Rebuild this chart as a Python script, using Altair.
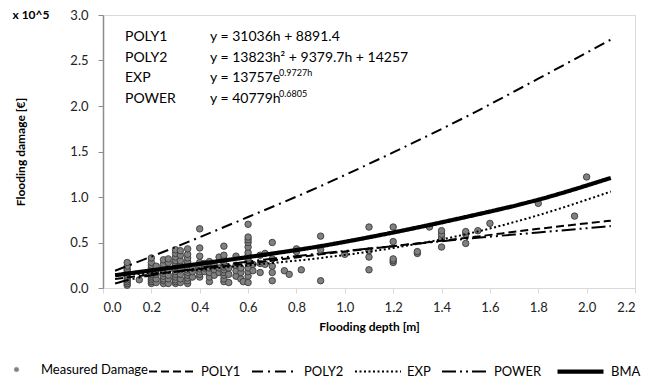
import altair as alt
import pandas as pd

# ---- measured damage (flooding depth h [m] -> damage [x 10^5 EUR]) ----
depth_levels = [0.1, 0.15, 0.2, 0.22, 0.25, 0.27, 0.3, 0.32, 0.35, 0.37, 0.4, 0.42,
                0.44, 0.46, 0.48, 0.5, 0.52, 0.55, 0.57, 0.58, 0.6, 0.62, 0.65, 0.67,
                0.7, 0.75, 0.77, 0.8, 0.82, 0.9, 1.0, 1.1, 1.2, 1.3, 1.35, 1.4, 1.5,
                1.55, 1.6, 1.8, 1.95, 2.0]
damage_levels = [
    [0.03, 0.05, 0.07, 0.09, 0.11, 0.13, 0.15, 0.17, 0.19, 0.21, 0.24, 0.28],
    [0.09],
    [0.05, 0.07, 0.09, 0.11, 0.13, 0.15, 0.17, 0.19, 0.22, 0.25, 0.28, 0.33],
    [0.06, 0.10, 0.15, 0.20, 0.24],
    [0.05, 0.08, 0.10, 0.13, 0.16, 0.19, 0.22, 0.26, 0.31],
    [0.05, 0.10, 0.14, 0.20, 0.28, 0.32],
    [0.05, 0.07, 0.09, 0.12, 0.15, 0.18, 0.21, 0.24, 0.27, 0.30, 0.34, 0.38, 0.42],
    [0.06, 0.10, 0.15, 0.20, 0.25, 0.30, 0.36, 0.41],
    [0.05, 0.08, 0.11, 0.14, 0.17, 0.20, 0.23, 0.26, 0.29, 0.33, 0.37, 0.43],
    [0.12, 0.18, 0.22],
    [0.12, 0.15, 0.18, 0.21, 0.24, 0.28, 0.35, 0.44, 0.65],
    [0.18, 0.22, 0.27],
    [0.07, 0.12, 0.17, 0.22, 0.29],
    [0.14, 0.20, 0.25],
    [0.17, 0.22, 0.34],
    [0.07, 0.10, 0.14, 0.17, 0.20, 0.23, 0.26, 0.29, 0.32, 0.36, 0.46],
    [0.06, 0.15, 0.22],
    [0.13, 0.19, 0.25, 0.35],
    [0.10, 0.17, 0.22],
    [0.07],
    [0.06, 0.13, 0.18, 0.22, 0.27, 0.30, 0.33, 0.36, 0.39, 0.45, 0.50, 0.53, 0.56, 0.70],
    [0.19, 0.26],
    [0.17, 0.27, 0.36],
    [0.26, 0.38],
    [0.08, 0.17, 0.24, 0.32, 0.50],
    [0.19],
    [0.15],
    [0.40, 0.43],
    [0.20],
    [0.08, 0.42, 0.57],
    [0.37],
    [0.20, 0.34, 0.41, 0.67],
    [0.28, 0.30, 0.32, 0.51, 0.67],
    [0.38, 0.40],
    [0.67],
    [0.45, 0.55, 0.59, 0.63],
    [0.49, 0.59, 0.62],
    [0.63],
    [0.71],
    [0.93],
    [0.79],
    [1.22],
]

# ---- fitted curves ----
curve_h = [0.05, 0.3, 0.6, 0.9, 1.2, 1.5, 1.8, 2.1]
poly1_v = [0.10, 0.18, 0.27, 0.37, 0.46, 0.55, 0.65, 0.74]
poly2_v = [0.19, 0.45, 0.78, 1.12, 1.49, 1.88, 2.30, 2.73]
exp_v = [0.14, 0.18, 0.25, 0.33, 0.44, 0.59, 0.80, 1.06]
bma_v = [0.14, 0.23, 0.34, 0.46, 0.61, 0.78, 0.97, 1.21]
power_h = [0.05, 0.1, 0.2, 0.3, 0.6, 0.9, 1.2, 1.5, 1.8, 2.1]
power_v = [0.05, 0.085, 0.14, 0.18, 0.29, 0.38, 0.46, 0.54, 0.61, 0.68]

models = ["POLY1", "POLY2", "EXP", "POWER", "BMA"]
model_dash = [[8, 4], [11, 5, 2, 5], [2, 2.5], [14, 4, 2, 4, 2, 4], [1, 0]]
model_width = [2, 2, 2, 2, 4.2]

eq_names = ["POLY1", "POLY2", "EXP", "POWER"]
eq_texts = ["y = 31036h + 8891.4", "y = 13823h\u00b2 + 9379.7h + 14257",
            "y = 13757e", "y = 40779h"]
eq_sups = ["", "", "0.9727h", "0.6805"]

x_ticks = [0.0, 0.2, 0.4, 0.6, 0.8, 1.0, 1.2, 1.4, 1.6, 1.8, 2.0, 2.2]
y_ticks = [0.0, 0.5, 1.0, 1.5, 2.0, 2.5, 3.0]

FONT = "Lato"

meas = pd.DataFrame({
    "h": [h for h, vs in zip(depth_levels, damage_levels) for _ in vs],
    "v": [v for vs in damage_levels for v in vs],
})
meas["lab"] = "Measured Damage"

rows = []
for name, hs, vs in [("POLY1", curve_h, poly1_v), ("POLY2", curve_h, poly2_v),
                     ("EXP", curve_h, exp_v), ("POWER", power_h, power_v),
                     ("BMA", curve_h, bma_v)]:
    for h, v in zip(hs, vs):
        rows.append({"model": name, "h": h, "v": v})
curves = pd.DataFrame(rows)

xs = alt.Scale(domain=[0, 2.2], nice=False, zero=False)
ys = alt.Scale(domain=[0, 3.0], nice=False, zero=False)

x_axis = alt.Axis(title="Flooding depth [m]", values=x_ticks, format=".1f",
                  grid=False, domainColor="#d9d9d9", tickColor="#d9d9d9",
                  tickSize=5, labelPadding=8, labelFontSize=13, labelFont=FONT,
                  labelColor="#222222", titleFont=FONT, titleFontSize=12,
                  titleFontWeight="bold", titleColor="#000000", titlePadding=7)
y_axis = alt.Axis(title="Flooding damage  [\u20ac]", values=y_ticks, format=".1f",
                  grid=False, domainColor="#8c8c8c", domainWidth=1.5,
                  tickColor="#8c8c8c", tickSize=5, labelPadding=10,
                  labelFontSize=13, labelFont=FONT, labelColor="#222222",
                  titleFont=FONT, titleFontSize=12, titleFontWeight="bold",
                  titleColor="#000000", titlePadding=42)

points = alt.Chart(meas).mark_circle(size=42, stroke="#3a3a3a", strokeWidth=0.9,
                                     opacity=1).encode(
    x=alt.X("h:Q", scale=xs, axis=x_axis),
    y=alt.Y("v:Q", scale=ys, axis=y_axis),
    fill=alt.Fill("lab:N", scale=alt.Scale(range=["#808080"]),
                  legend=alt.Legend(orient="none", legendX=-93, legendY=348,
                                    title=None, symbolSize=22, symbolType="circle",
                                    symbolStrokeColor="#9a9a9a", symbolStrokeWidth=0.5,
                                    labelOffset=18, labelFontSize=13, labelFont=FONT,
                                    labelColor="#000000", padding=0)),
)

line_legend = alt.Legend(orient="none", legendX=45, legendY=331, title=None,
                         direction="horizontal", symbolType="stroke",
                         symbolSize=2116, symbolStrokeColor="#000000",
                         labelOffset=5, labelFontSize=13, labelFont=FONT,
                         labelColor="#000000", columnPadding=7, padding=0)

lines = alt.Chart(curves).mark_line(interpolate="monotone", color="#000000").encode(
    x=alt.X("h:Q", scale=xs),
    y=alt.Y("v:Q", scale=ys),
    strokeDash=alt.StrokeDash("model:O", sort=models,
                              scale=alt.Scale(type="ordinal", domain=models, range=model_dash),
                              legend=line_legend),
    strokeWidth=alt.StrokeWidth("model:O", sort=models,
                                scale=alt.Scale(type="ordinal", domain=models, range=model_width),
                                legend=line_legend),
)

layers = [points, lines]

# equations text
for i, (nm, eq, sup) in enumerate(zip(eq_names, eq_texts, eq_sups)):
    yy = 22 + 20.5 * i
    layers.append(alt.Chart(pd.DataFrame({"t": [nm]})).mark_text(
        align="left", baseline="middle", font=FONT, fontSize=14, color="#000000"
    ).encode(x=alt.value(22), y=alt.value(yy), text="t:N"))
    layers.append(alt.Chart(pd.DataFrame({"t": [eq]})).mark_text(
        align="left", baseline="middle", font=FONT, fontSize=14, color="#000000"
    ).encode(x=alt.value(107), y=alt.value(yy), text="t:N"))
    if sup:
        layers.append(alt.Chart(pd.DataFrame({"t": [sup]})).mark_text(
            align="left", baseline="middle", font=FONT, fontSize=9, color="#000000"
        ).encode(x=alt.value(176), y=alt.value(yy - 5), text="t:N"))

layers.append(alt.Chart(pd.DataFrame({"t": ["x 10^5"]})).mark_text(
    align="center", baseline="middle", font=FONT, fontSize=12, fontWeight="bold",
    color="#000000"
).encode(x=alt.value(-72), y=alt.value(0), text="t:N"))

chart = alt.layer(*layers).properties(
    width=532, height=273,
    padding={"left": 95, "top": 7, "right": 10, "bottom": 92},
    autosize=alt.AutoSizeParams(type="none"),
).configure_view(stroke="#d9d9d9", strokeWidth=1)

chart.save("out.html", embed_options={"renderer": "svg", "actions": False})
